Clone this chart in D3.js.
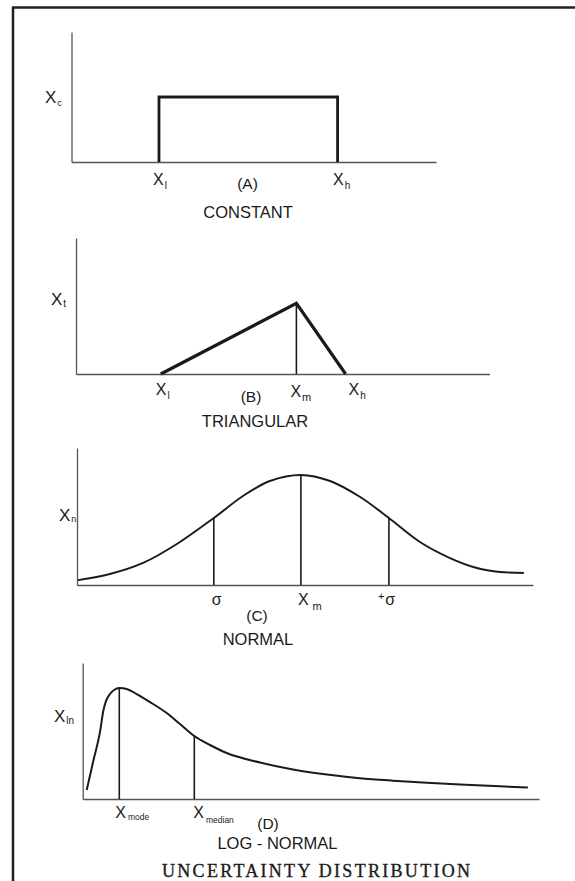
<!DOCTYPE html>
<html>
<head>
<meta charset="utf-8">
<script src="https://d3js.org/d3.v7.min.js"></script>
<style>
  body { margin: 0; background: #fff; }
  svg text { font-family: "Liberation Sans", Arial, sans-serif; fill: #1a1a1a; }
  .title { font-family: "Liberation Serif", "Times New Roman", serif !important; }
</style>
</head>
<body>
<div id="chart"></div>
<script>
// data (units: 0-100 along each axis)
const constX = [24, 73];
const constLevel = 50;

const triX = [20.5, 53.3, 65.2];
const triPeak = 52;

const normalX = [0.2, 7.2, 14.5, 21.9, 30.0, 36.4, 42.3, 49.1, 55.5, 62.1, 68.4, 75.2, 81.8, 87.7, 92.8, 98.0];
const normalY = [3.6, 8.0, 16.1, 29.9, 48.9, 65.0, 75.9, 80.3, 75.9, 64.2, 48.9, 31.4, 19.7, 12.4, 9.5, 8.8];
const normalMarkX = [30.0, 49.1, 68.4];
const normalMarkY = [48.9, 80.3, 48.9];

const lognX = [0.88, 2.32, 3.79, 4.51, 5.11, 5.98, 6.86, 8.02, 9.64, 11.83, 14.75, 18.41, 21.32, 24.46,
               27.90, 31.56, 38.86, 46.09, 53.54, 60.76, 68.00, 75.45, 82.67, 91.43, 97.56];
const lognY = [6.6, 27.9, 49.3, 64.7, 72.1, 77.2, 80.1, 81.6, 80.9, 77.2, 71.3, 63.2, 55.1, 46.3,
               39.7, 33.8, 26.8, 21.7, 18.0, 15.3, 13.5, 12.0, 10.7, 9.3, 8.5];
const lognMarkX = [8.02, 24.46];
const lognMarkY = [81.6, 46.3];

const yLabels = [["X", "c"], ["X", "t"], ["X", "n"], ["X", "ln"]];
const captions = [["(A)", "CONSTANT"], ["(B)", "TRIANGULAR"], ["(C)", "NORMAL"], ["(D)", "LOG - NORMAL"]];
const titleText = "UNCERTAINTY DISTRIBUTION";

const W = 575, H = 881;
const svg = d3.select("#chart").append("svg").attr("width", W).attr("height", H);

// scanned frame: top and left edges
svg.append("line").attr("x1", 12).attr("x2", W).attr("y1", 7.5).attr("y2", 7.5)
  .attr("stroke", "#222").attr("stroke-width", 2.5);
svg.append("line").attr("x1", 13).attr("x2", 13).attr("y1", 7).attr("y2", H)
  .attr("stroke", "#222").attr("stroke-width", 2.5);

const panels = [
  {x0: 71.5, x1: 436, yBase: 162, yTop: 32},
  {x0: 76, x1: 489.5, yBase: 374, yTop: 238},
  {x0: 77, x1: 533, yBase: 585, yTop: 448},
  {x0: 82.7, x1: 539, yBase: 799, yTop: 663}
];

function makePanel(p) {
  const x = d3.scaleLinear().domain([0, 100]).range([p.x0, p.x1]);
  const y = d3.scaleLinear().domain([0, 100]).range([p.yBase, p.yTop]);
  const g = svg.append("g");
  g.append("g").attr("transform", `translate(0,${p.yBase})`)
    .call(d3.axisBottom(x).tickValues([]).tickSizeOuter(0))
    .call(a => a.select(".domain").attr("stroke", "#555").attr("stroke-width", 1.4));
  g.append("g").attr("transform", `translate(${p.x0},0)`)
    .call(d3.axisLeft(y).tickValues([]).tickSizeOuter(0))
    .call(a => a.select(".domain").attr("stroke", "#555").attr("stroke-width", 1.3));
  return {x, y, g};
}

function subLabel(g, x, y, base, sub, opts) {
  opts = opts || {};
  const t = g.append("text").attr("x", x).attr("y", y).attr("font-size", opts.size || 16);
  t.append("tspan").text(base);
  t.append("tspan").attr("font-size", opts.subSize || 10).attr("dx", opts.gap || 1)
    .attr("dy", opts.drop == null ? 4 : opts.drop).text(sub);
  return t;
}

function caption(g, cx, y, text, size) {
  g.append("text").attr("x", cx).attr("y", y).attr("text-anchor", "middle")
    .attr("font-size", size || 16.5).text(text);
}

const line = d3.line();

// (A) constant
{
  const {x, y, g} = makePanel(panels[0]);
  g.append("path")
    .attr("d", line([[x(constX[0]), y(0)], [x(constX[0]), y(constLevel)],
                     [x(constX[1]), y(constLevel)], [x(constX[1]), y(0)]]))
    .attr("fill", "none").attr("stroke", "#1a1a1a").attr("stroke-width", 2.8)
    .attr("stroke-linejoin", "miter");
  subLabel(g, x(constX[0]) - 6, 185, "X", "l");
  subLabel(g, x(constX[1]) - 4.5, 185, "X", "h");
  subLabel(g, 45, 103, yLabels[0][0], yLabels[0][1], {size: 17, subSize: 9, drop: 3});
  caption(g, 247.5, 189, captions[0][0], 15.5);
  caption(g, 248, 218, captions[0][1]);
}

// (B) triangular
{
  const {x, y, g} = makePanel(panels[1]);
  g.append("path")
    .attr("d", line([[x(triX[0]), y(0)], [x(triX[1]), y(triPeak)], [x(triX[2]), y(0)]]))
    .attr("fill", "none").attr("stroke", "#1a1a1a").attr("stroke-width", 3.2)
    .attr("stroke-linejoin", "miter");
  g.append("line").attr("x1", x(triX[1])).attr("x2", x(triX[1]))
    .attr("y1", y(triPeak)).attr("y2", y(0))
    .attr("stroke", "#1a1a1a").attr("stroke-width", 1.6);
  subLabel(g, x(triX[0]) - 5, 395, "X", "l");
  subLabel(g, x(triX[1]) - 6, 397, "X", "m", {subSize: 11});
  subLabel(g, x(triX[2]) + 3, 395, "X", "h");
  subLabel(g, 51, 305, yLabels[1][0], yLabels[1][1], {size: 17, subSize: 10, drop: 2});
  caption(g, 251, 402, captions[1][0], 15.5);
  caption(g, 255, 427, captions[1][1]);
}

// (C) normal
{
  const {x, y, g} = makePanel(panels[2]);
  const pts = normalX.map((v, i) => [x(v), y(normalY[i])]);
  g.append("path").attr("d", d3.line().curve(d3.curveCatmullRom.alpha(0.5))(pts))
    .attr("fill", "none").attr("stroke", "#1a1a1a").attr("stroke-width", 1.9);
  g.selectAll(".mark").data(normalMarkX).enter().append("line")
    .attr("x1", d => x(d)).attr("x2", d => x(d))
    .attr("y1", (d, i) => y(normalMarkY[i])).attr("y2", y(0))
    .attr("stroke", "#1a1a1a").attr("stroke-width", 1.6);
  g.append("text").attr("x", x(normalMarkX[0]) + 3).attr("y", 605)
    .attr("text-anchor", "middle").attr("font-size", 16).text("σ");
  subLabel(g, x(normalMarkX[1]) - 3, 605, "X", "m", {subSize: 11, gap: 4, drop: 5});
  const ps = g.append("text").attr("x", x(normalMarkX[2]) - 11).attr("y", 605).attr("font-size", 16);
  ps.append("tspan").attr("font-size", 11).attr("dy", -5).text("+");
  ps.append("tspan").attr("dy", 5).attr("dx", 1).text("σ");
  subLabel(g, 59, 521, yLabels[2][0], yLabels[2][1], {size: 17, subSize: 9, gap: 0, drop: 1});
  caption(g, 257, 621, captions[2][0], 15.5);
  caption(g, 258, 645, captions[2][1]);
}

// (D) log-normal
{
  const {x, y, g} = makePanel(panels[3]);
  const pts = lognX.map((v, i) => [x(v), y(lognY[i])]);
  g.append("path").attr("d", d3.line().curve(d3.curveMonotoneX)(pts))
    .attr("fill", "none").attr("stroke", "#1a1a1a").attr("stroke-width", 2);
  g.selectAll(".mark").data(lognMarkX).enter().append("line")
    .attr("x1", d => x(d)).attr("x2", d => x(d))
    .attr("y1", (d, i) => y(lognMarkY[i])).attr("y2", y(0))
    .attr("stroke", "#1a1a1a").attr("stroke-width", 1.6);
  subLabel(g, x(lognMarkX[0]) - 4, 818, "X", "mode", {subSize: 8.5, gap: 2, drop: 2});
  subLabel(g, x(lognMarkX[1]) - 1, 818, "X", "median", {subSize: 8.5, gap: 2, drop: 5});
  subLabel(g, 54, 722, yLabels[3][0], yLabels[3][1], {size: 17, subSize: 10, gap: 0, drop: 2});
  caption(g, 268, 829, captions[3][0], 15.5);
  caption(g, 277.5, 849, captions[3][1]);
}

// title
svg.append("text").attr("class", "title")
  .attr("x", 316).attr("y", 877).attr("text-anchor", "middle")
  .attr("font-size", 18).attr("textLength", 308).attr("lengthAdjust", "spacing")
  .attr("stroke", "#222").attr("stroke-width", 0.35)
  .text(titleText);
</script>
</body>
</html>
